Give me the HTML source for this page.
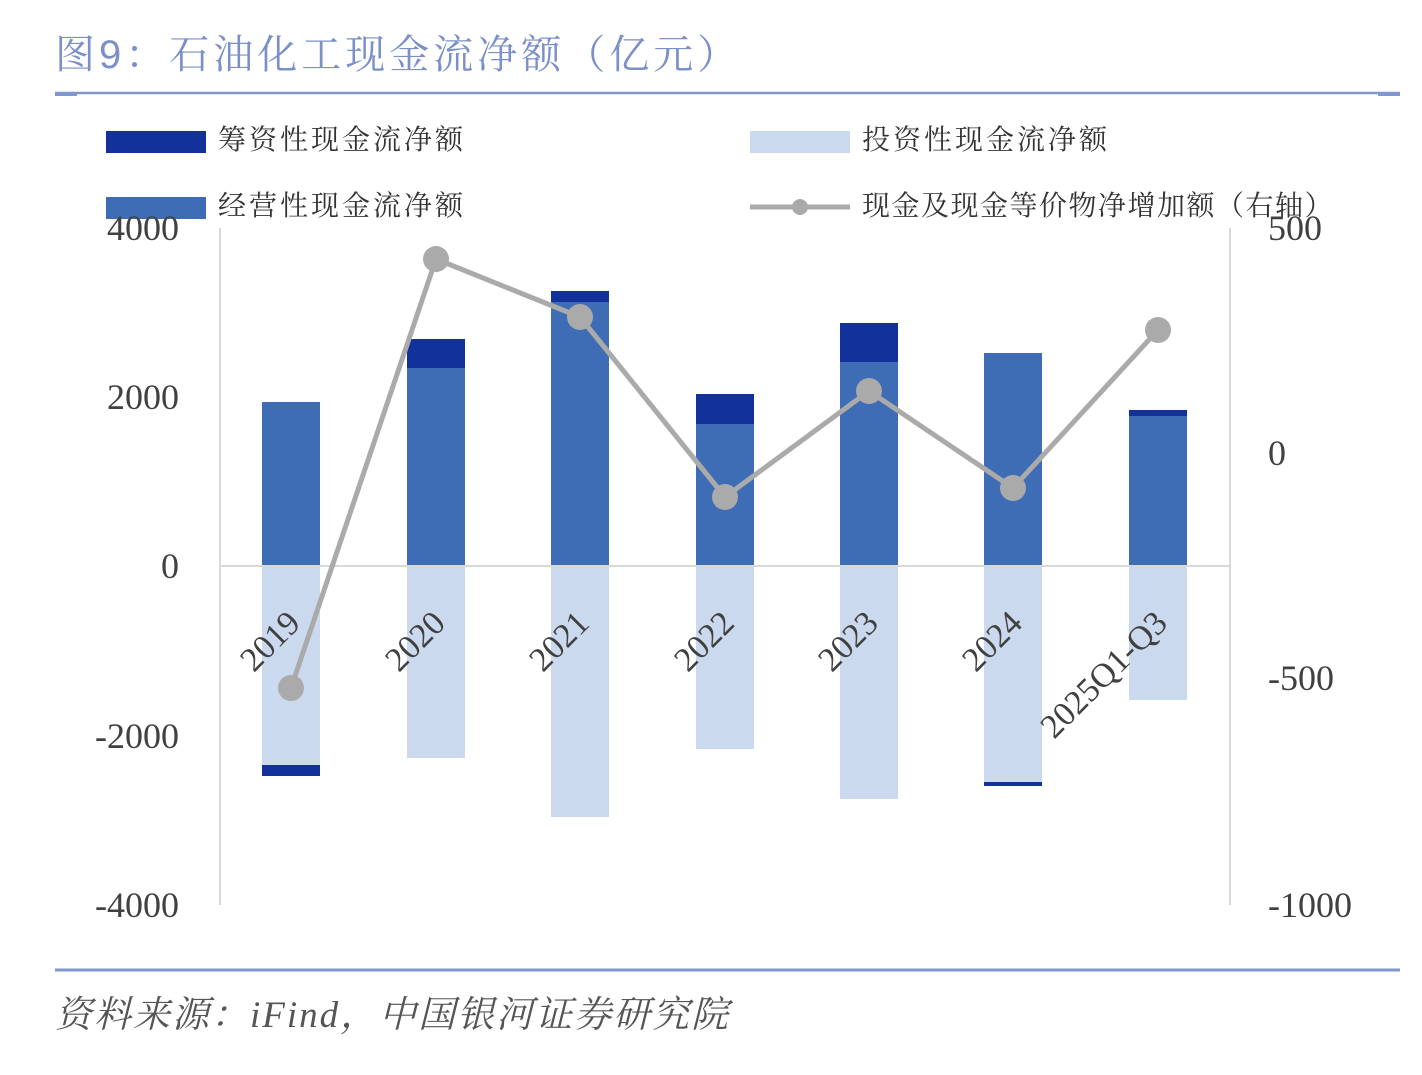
<!DOCTYPE html>
<html><head><meta charset="utf-8"><style>
body{margin:0;background:#fff;}
svg{display:block;font-family:"Liberation Serif","Noto Serif CJK SC",serif;}
</style></head><body>
<svg width="1422" height="1075" viewBox="0 0 1422 1075">
<text x="55" y="68" font-size="40" letter-spacing="4" fill="#7b8fc9" font-family="Liberation Sans, Noto Serif CJK SC, serif">图9：石油化工现金流净额（亿元）</text>
<line x1="55" y1="93" x2="1400" y2="93" stroke="#8197cf" stroke-width="2.5"/>
<rect x="55" y="92" width="22" height="4" fill="#8197cf"/><rect x="1378" y="92" width="22" height="4" fill="#8197cf"/>
<!-- legend -->
<g font-size="28" fill="#333" letter-spacing="3">
<rect x="106" y="131" width="100" height="22" fill="#13319a"/>
<text x="218" y="149">筹资性现金流净额</text>
<rect x="750" y="131" width="100" height="22" fill="#cbd9ee"/>
<text x="862" y="149">投资性现金流净额</text>
<rect x="106" y="197" width="100" height="22" fill="#3f6db5"/>
<text x="218" y="215">经营性现金流净额</text>
<line x1="750" y1="207" x2="850" y2="207" stroke="#aaa" stroke-width="5"/>
<circle cx="800" cy="207" r="8" fill="#aaa"/>
<text x="862" y="215" letter-spacing="1.5">现金及现金等价物净增加额（右轴）</text>
</g>
<!-- axes -->
<line x1="220" y1="228" x2="220" y2="905" stroke="#d9d9d9" stroke-width="2"/>
<line x1="1230" y1="228" x2="1230" y2="905" stroke="#d9d9d9" stroke-width="2"/>
<g font-size="36" fill="#404040" text-anchor="end">
<text x="179" y="240">4000</text><text x="179" y="409">2000</text><text x="179" y="578">0</text><text x="179" y="748">-2000</text><text x="179" y="917">-4000</text>
</g>
<g font-size="36" fill="#404040" text-anchor="start">
<text x="1268" y="240">500</text><text x="1268" y="465">0</text><text x="1268" y="690">-500</text><text x="1268" y="917">-1000</text>
</g>
<!-- bars -->
<g>
<rect x="262" y="402" width="58" height="164" fill="#3f6db5"/><rect x="262" y="566" width="58" height="199" fill="#cbd9ee"/><rect x="262" y="765" width="58" height="11" fill="#13319a"/>
<rect x="407" y="339" width="58" height="29" fill="#13319a"/><rect x="407" y="368" width="58" height="198" fill="#3f6db5"/><rect x="407" y="566" width="58" height="192" fill="#cbd9ee"/>
<rect x="551" y="291" width="58" height="11" fill="#13319a"/><rect x="551" y="302" width="58" height="264" fill="#3f6db5"/><rect x="551" y="566" width="58" height="251" fill="#cbd9ee"/>
<rect x="696" y="394" width="58" height="30" fill="#13319a"/><rect x="696" y="424" width="58" height="142" fill="#3f6db5"/><rect x="696" y="566" width="58" height="183" fill="#cbd9ee"/>
<rect x="840" y="323" width="58" height="39" fill="#13319a"/><rect x="840" y="362" width="58" height="204" fill="#3f6db5"/><rect x="840" y="566" width="58" height="233" fill="#cbd9ee"/>
<rect x="984" y="353" width="58" height="213" fill="#3f6db5"/><rect x="984" y="566" width="58" height="216" fill="#cbd9ee"/><rect x="984" y="782" width="58" height="4" fill="#13319a"/>
<rect x="1129" y="410" width="58" height="6" fill="#13319a"/><rect x="1129" y="416" width="58" height="150" fill="#3f6db5"/><rect x="1129" y="566" width="58" height="134" fill="#cbd9ee"/>
</g>
<line x1="220" y1="566" x2="1230" y2="566" stroke="#d9d9d9" stroke-width="2"/>
<g font-size="34" fill="#404040" text-anchor="end">
<text transform="translate(302,625) rotate(-45)">2019</text>
<text transform="translate(447,625) rotate(-45)">2020</text>
<text transform="translate(591,625) rotate(-45)">2021</text>
<text transform="translate(736,625) rotate(-45)">2022</text>
<text transform="translate(880,625) rotate(-45)">2023</text>
<text transform="translate(1024,625) rotate(-45)">2024</text>
<text transform="translate(1169,625) rotate(-45)">2025Q1-Q3</text>
</g>
<polyline points="291,688 436,259 580,317 725,497 869,391 1013,488 1158,330" fill="none" stroke="#aaa" stroke-width="5" stroke-linejoin="round"/>
<g fill="#aaa">
<circle cx="291" cy="688" r="13"/><circle cx="436" cy="259" r="13"/><circle cx="580" cy="317" r="13"/><circle cx="725" cy="497" r="13"/><circle cx="869" cy="391" r="13"/><circle cx="1013" cy="488" r="13"/><circle cx="1158" cy="330" r="13"/>
</g>
<line x1="55" y1="970" x2="1400" y2="970" stroke="#8197cf" stroke-width="3"/>
<text x="55" y="1027" font-size="37" letter-spacing="2" fill="#555" font-style="italic">资料来源：iFind，中国银河证券研究院</text>
</svg>
</body></html>
